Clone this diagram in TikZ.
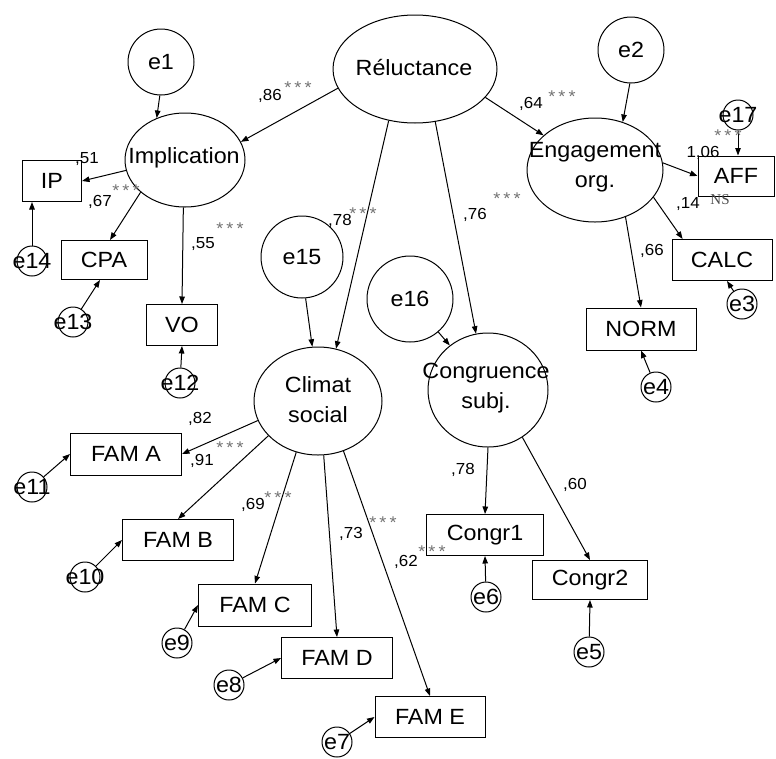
\documentclass[tikz,border=0pt]{standalone}
\usepackage{fontspec}
\setmainfont{Liberation Sans}[FakeStretch=1.06]
\newfontfamily\nsfont{Liberation Serif}
\usetikzlibrary{shapes.geometric,arrows.meta,calc}
\newcommand{\mystars}{*\kern3.2pt*\kern3.2pt*}
\begin{document}
\begin{tikzpicture}[x=1pt,y=-1pt,
  lat/.style={ellipse,draw,line width=1pt,inner sep=0},
  err/.style={circle,draw,line width=1pt,inner sep=0},
  obs/.style={rectangle,draw,line width=1pt,inner sep=0,font=\fontsize{22}{26}\selectfont},
  txt/.style={inner sep=0,align=center,font=\fontsize{22}{30}\selectfont},
  lbl/.style={inner sep=0,font=\fontsize{16}{18}\selectfont},
  st/.style={inner sep=0,font=\fontsize{17}{18}\selectfont,text=black!55},
  arr/.style={line width=1pt,-{Triangle[length=7.5pt,width=5.5pt]}},
]
\useasboundingbox (0,0) rectangle (776,758);
\fill[white] (0,0) rectangle (776,758);

% latent variables
\node[lat,minimum width=164pt,minimum height=108pt] (rel) at (415,69) {};
\node[txt] (relt) at (414,68) {Réluctance};
\node[lat,minimum width=120pt,minimum height=94pt] (imp) at (185,160) {};
\node[txt] (impt) at (184,158) {Implication};
\node[lat,minimum width=136pt,minimum height=104pt] (eng) at (595,170) {};
\node[txt] (engt) at (595,167) {Engagement\\org.};
\node[lat,minimum width=128pt,minimum height=108pt] (clim) at (318,401) {};
\node[txt] (climt) at (318,400) {Climat\\social};
\node[lat,minimum width=120pt,minimum height=114pt] (cong) at (488,390) {};
\node[txt] (congt) at (486,388) {Congruence\\subj.};

% large error circles
\node[err,minimum size=66pt] (e1) at (161,62) {};
\node[txt] (e1t) at (161,62) {e1};
\node[err,minimum size=66pt] (e2) at (631,50) {};
\node[txt] (e2t) at (631,50) {e2};
\node[err,minimum size=82pt] (e15) at (302,257) {};
\node[txt] (e15t) at (302,257) {e15};
\node[err,minimum size=86pt] (e16) at (410,299) {};
\node[txt] (e16t) at (410,299) {e16};

% observed variables
\node[obs,minimum width=59pt,minimum height=41pt] (ip) at (52,181) {IP};
\node[obs,minimum width=86pt,minimum height=39pt] (cpa) at (104,260) {CPA};
\node[obs,minimum width=71pt,minimum height=41pt] (vo) at (182,325) {VO};
\node[obs,minimum width=76pt,minimum height=40pt] (aff) at (736,176) {AFF};
\node[obs,minimum width=100pt,minimum height=41pt] (calc) at (722,260) {CALC};
\node[obs,minimum width=110pt,minimum height=42pt] (norm) at (641,329) {NORM};
\node[obs,minimum width=117pt,minimum height=41pt] (congr1) at (485,535) {Congr1};
\node[obs,minimum width=115pt,minimum height=39pt] (congr2) at (590,580) {Congr2};
\node[obs,minimum width=111pt,minimum height=42pt] (famA) at (126,454) {FAM A};
\node[obs,minimum width=111pt,minimum height=41pt] (famB) at (178,540) {FAM B};
\node[obs,minimum width=113pt,minimum height=42pt] (famC) at (255,605) {FAM C};
\node[obs,minimum width=111pt,minimum height=41pt] (famD) at (337,658) {FAM D};
\node[obs,minimum width=110pt,minimum height=41pt] (famE) at (430,717) {FAM E};

% small error circles
\foreach \n/\x/\y in {e14/32/261, e13/73/322, e12/180/383, e17/738/115, e3/742/304,
  e4/656/387, e6/486/597, e5/589/652, e11/32/487, e10/85/577, e9/177/643,
  e8/229/685, e7/337/742}{
  \node[err,minimum size=30pt] (\n) at (\x,\y) {};
  \node[txt] (\n t) at (\x,\y) {\n};
}

% structural paths
\draw[arr] (rel.194) -- (imp.18);
\draw[arr] (rel.243) -- (clim.71);
\draw[arr] (rel.291) -- (cong.102);
\draw[arr] (rel.338) -- (eng.146);
\draw[arr] (e1.268) -- (imp.124);
\draw[arr] (e2.268) -- (eng.60);
\draw[arr] (e15.275) -- (clim.96);
\draw[arr] (e16) -- (cong);

% Implication indicators
\draw[arr] (imp.190) -- (ip.east);
\draw[arr] (imp.216) -- ($(cpa.north)+(6,0)$);
\draw[arr] (imp.268) -- (vo.north);
\draw[arr] (e14.north) -- (e14.north |- ip.south);
\draw[arr] (e13) -- ($(cpa.south)+(-4,0)$);
\draw[arr] (e12) -- (vo.south);

% Engagement indicators
\draw[arr] (eng.6) -- (aff.west);
\draw[arr] (e17.south) -- (e17.south |- aff.north);
\draw[arr] (eng.335) -- ($(calc.north west)!0.11!(calc.north east)$);
\draw[arr] (e3) -- ($(calc.south)+(5,0)$);
\draw[arr] (eng.303) -- (norm.north);
\draw[arr] (e4) -- (norm.south);

% Congruence indicators
\draw[arr] (cong.south) -- (congr1.north);
\draw[arr] (e6) -- (congr1.south);
\draw[arr] (cong.306) -- (congr2.north);
\draw[arr] (e5) -- (congr2.south);

% Climat indicators
\draw[arr] (clim.198) -- (famA.east);
\draw[arr] (clim.215) -- (famB.north);
\draw[arr] (clim.247) -- (famC.north);
\draw[arr] (clim.276) -- (famD.north);
\draw[arr] (clim.297) -- (famE.north);
\draw[arr] (e11) -- (famA.west);
\draw[arr] (e10) -- (famB.west);
\draw[arr] (e9) -- (famC.west);
\draw[arr] (e8) -- (famD.west);
\draw[arr] (e7) -- (famE.west);

% coefficients
\node[lbl] (l86) at (270,96) {,86};
\node[st] (s86) at (298,88) {\mystars};
\node[lbl] (l64) at (531,104) {,64};
\node[st] (s64) at (562,97) {\mystars};
\node[lbl] (l51) at (87,159) {,51};
\node[lbl] (l67) at (100,202) {,67};
\node[st] (s67) at (126,191) {\mystars};
\node[lbl] (l55) at (203,244) {,55};
\node[st] (s55) at (230,229) {\mystars};
\node[lbl] (l78a) at (340,221) {,78};
\node[st] (s78a) at (363,214) {\mystars};
\node[lbl] (l76) at (475,215) {,76};
\node[st] (s76) at (507,199) {\mystars};
\node[lbl] (l106) at (703,153) {1,06};
\node[st] (s106) at (728,136) {\mystars};
\node[lbl] (l14) at (688,204) {,14};
\node[inner sep=0,font=\nsfont\fontsize{15}{18}\selectfont,text=black!70] (ns) at (720,200) {NS};
\node[lbl] (l66) at (652,251) {,66};
\node[lbl] (l82) at (200,419) {,82};
\node[st] (s82) at (230,448) {\mystars};
\node[lbl] (l91) at (202,461) {,91};
\node[lbl] (l69) at (253,505) {,69};
\node[st] (s69) at (278,498) {\mystars};
\node[lbl] (l73) at (351,534) {,73};
\node[st] (s73) at (383,523) {\mystars};
\node[lbl] (l62) at (406,562) {,62};
\node[st] (s62) at (432,552) {\mystars};
\node[lbl] (l78b) at (463,470) {,78};
\node[lbl] (l60) at (575,485) {,60};
\end{tikzpicture}
\end{document}
